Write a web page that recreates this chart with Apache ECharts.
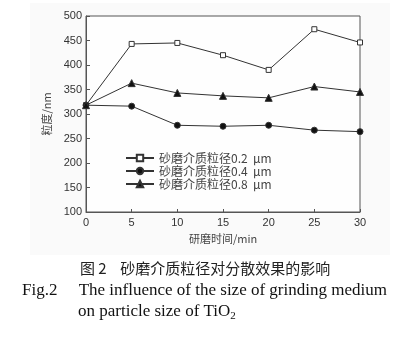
<!DOCTYPE html>
<html>
<head>
<meta charset="utf-8">
<script src="https://cdn.jsdelivr.net/npm/echarts@6/dist/echarts.min.js"></script>
<style>
html,body{margin:0;padding:0;background:#fff;}
#chart{width:405px;height:337px;}
</style>
</head>
<body>
<div id="chart"></div>
<script>
// grinding time (min)
const times = [0, 5, 10, 15, 20, 25, 30];
// particle size (nm) for each grinding-medium size
const size02 = [318, 443, 445, 420, 390, 473, 446];
const size04 = [318, 316, 277, 275, 277, 267, 264];
const size08 = [318, 363, 343, 337, 333, 356, 345];
const seriesNames = ['砂磨介质粒径0.2  μm', '砂磨介质粒径0.4  μm', '砂磨介质粒径0.8  μm'];
const yTicks = [100, 150, 200, 250, 300, 350, 400, 450, 500];
const xTicks = [0, 5, 10, 15, 20, 25, 30];

const pairs = arr => times.map((t, i) => [t, arr[i]]);
const ink = '#333';
const tickFont = { color: '#333', fontSize: 11, fontFamily: 'Liberation Sans, Arial, sans-serif' };

const chart = echarts.init(document.getElementById('chart'), null, { renderer: 'canvas' });

function lineSeries(name, data, symbol, size, fill) {
  return {
    name: name,
    type: 'line',
    data: data,
    symbol: symbol,
    symbolSize: size,
    showAllSymbol: true,
    lineStyle: { color: ink, width: 1 },
    itemStyle: { color: fill, borderColor: ink, borderWidth: 1 },
    emphasis: { disabled: true },
    animation: false
  };
}

chart.setOption({
  animation: false,
  backgroundColor: '#fff',
  graphic: [
    { type: 'rect', shape: { x: 30, y: 3, width: 360, height: 252 }, style: { fill: '#fafafa' }, z: -10, silent: true },
    { type: 'rect', shape: { x: 86, y: 16, width: 274, height: 196 }, style: { fill: '#fefefe' }, z: -9, silent: true },
    {
      type: 'text', left: 80, top: 261,
      style: { text: '图 2    砂磨介质粒径对分散效果的影响', font: '15px "Noto Sans CJK SC", sans-serif', fill: '#222' }
    },
    {
      type: 'text', left: 22, top: 282,
      style: { text: 'Fig.2     The influence of the size of grinding medium', font: '17px "Liberation Serif", "DejaVu Serif", serif', fill: '#111' }
    },
    {
      type: 'text', left: 78, top: 303,
      style: {
        text: '{a|on particle size of TiO}{s|2}',
        rich: {
          a: { font: '17px "Liberation Serif", "DejaVu Serif", serif', fill: '#111', color: '#111' },
          s: { font: '11px "Liberation Serif", "DejaVu Serif", serif', fill: '#111', color: '#111', padding: [9, 0, 0, 0] }
        }
      }
    }
  ],
  grid: { left: 86, right: 45, top: 16, bottom: 125, show: true, borderColor: '#555', borderWidth: 1, backgroundColor: 'transparent' },
  legend: {
    orient: 'vertical',
    left: 120,
    top: 147,
    itemGap: 1,
    itemWidth: 28,
    itemHeight: 8,
    textStyle: { color: '#444', fontSize: 12, fontFamily: '"Noto Sans CJK SC", sans-serif' },
    data: seriesNames
  },
  xAxis: {
    type: 'value',
    min: xTicks[0],
    max: xTicks[xTicks.length - 1],
    interval: 5,
    name: '研磨时间/min',
    nameLocation: 'middle',
    nameGap: 20,
    nameTextStyle: { color: '#444', fontSize: 11, fontFamily: '"Noto Sans CJK SC", sans-serif' },
    axisLine: { show: true, lineStyle: { color: '#555', width: 1 } },
    axisTick: { show: true, inside: true, length: 3, lineStyle: { color: '#555' } },
    axisLabel: Object.assign({ margin: 5 }, tickFont),
    splitLine: { show: false }
  },
  yAxis: {
    type: 'value',
    min: yTicks[0],
    max: yTicks[yTicks.length - 1],
    interval: 50,
    name: '粒度/nm',
    nameLocation: 'middle',
    nameGap: 27,
    nameTextStyle: { color: '#444', fontSize: 11, fontFamily: '"Noto Sans CJK SC", sans-serif' },
    axisLine: { show: true, lineStyle: { color: '#555', width: 1 } },
    axisTick: { show: true, inside: true, length: 4, lineStyle: { color: '#555' } },
    axisLabel: Object.assign({ margin: 4 }, tickFont),
    splitLine: { show: false }
  },
  series: [
    lineSeries(seriesNames[0], pairs(size02), 'rect', 5, '#fff'),
    lineSeries(seriesNames[1], pairs(size04), 'circle', 6, '#111'),
    lineSeries(seriesNames[2], pairs(size08), 'triangle', 7, '#111')
  ]
});
</script>
</body>
</html>
